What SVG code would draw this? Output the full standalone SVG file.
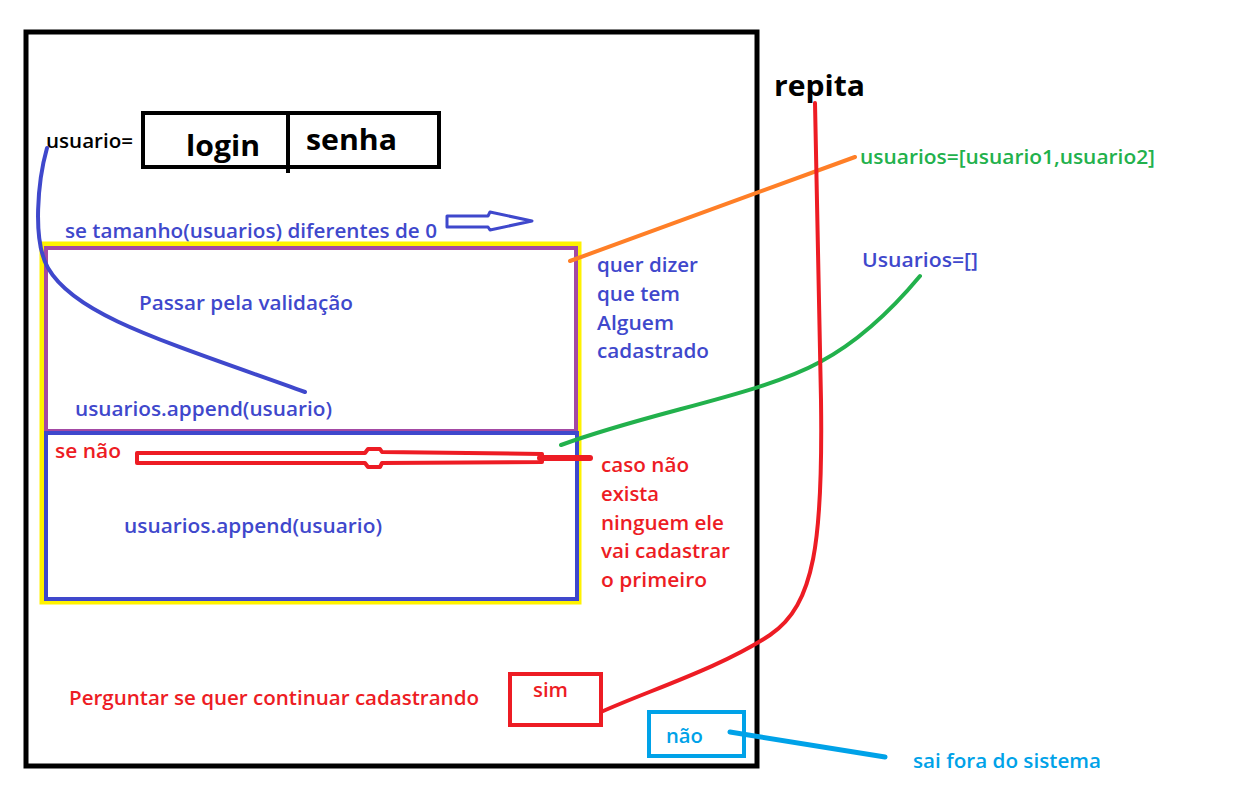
<svg xmlns="http://www.w3.org/2000/svg" width="1237" height="793" viewBox="0 0 1237 793">
<style>
text{font-family:"Open Sans","Liberation Sans",sans-serif;font-weight:600;font-size:19.5px}
.blk{fill:#000}
.blu{fill:#3f48cc}
.red{fill:#ed1c24}
.grn{fill:#22b14c}
.cyn{fill:#00a2e8}
.big{font-size:29px;font-weight:700}
.ln{fill:none;stroke-linecap:round;stroke-linejoin:round}
</style>
<rect width="1237" height="793" fill="#fff"/>
<g id="frame"><rect x="26" y="32" width="731" height="734" fill="none" stroke="#000" stroke-width="5"/></g>
<g id="usuario">
<text class="blk" x="46" y="148" textLength="87" lengthAdjust="spacingAndGlyphs">usuario=</text>
<rect x="143" y="113" width="296" height="54" fill="none" stroke="#000" stroke-width="4"/>
<line x1="288" y1="113" x2="288" y2="173" stroke="#000" stroke-width="4"/>
<text class="blk big" x="186" y="156" textLength="74" lengthAdjust="spacingAndGlyphs">login</text>
<text class="blk big" x="306" y="150" textLength="91" lengthAdjust="spacingAndGlyphs">senha</text>
</g>
<g id="cond">
<text class="blu" x="65" y="238" textLength="372" lengthAdjust="spacingAndGlyphs">se tamanho(usuarios) diferentes de 0</text>
<polygon points="447,216 488,216 490,212 532,221 490,230 488,227 447,227" fill="none" stroke="#3f48cc" stroke-width="3" stroke-linejoin="round"/>
</g>
<g id="outer-box"><rect x="42" y="244" width="537" height="358" fill="none" stroke="#fff200" stroke-width="5"/></g>
<g id="if-box">
<rect x="46" y="248" width="530" height="183" fill="none" stroke="#a349a4" stroke-width="4"/>
<text class="blu" x="139" y="310" textLength="214" lengthAdjust="spacingAndGlyphs">Passar pela validação</text>
<text class="blu" x="75" y="416" textLength="257" lengthAdjust="spacingAndGlyphs">usuarios.append(usuario)</text>
</g>
<g id="else-box">
<rect x="46" y="433" width="531" height="166" fill="none" stroke="#3f48cc" stroke-width="4"/>
<text class="red" x="55" y="458" textLength="66" lengthAdjust="spacingAndGlyphs">se não</text>
<text class="blu" x="124" y="533" textLength="258" lengthAdjust="spacingAndGlyphs">usuarios.append(usuario)</text>
</g>
<g id="note-quer">
<text class="blu" x="597" y="272" textLength="101" lengthAdjust="spacingAndGlyphs">quer dizer</text>
<text class="blu" x="597" y="301" textLength="83" lengthAdjust="spacingAndGlyphs">que tem</text>
<text class="blu" x="597" y="330" textLength="77" lengthAdjust="spacingAndGlyphs">Alguem</text>
<text class="blu" x="597" y="358" textLength="112" lengthAdjust="spacingAndGlyphs">cadastrado</text>
</g>
<g id="note-caso">
<text class="red" x="601" y="472" textLength="88" lengthAdjust="spacingAndGlyphs">caso não</text>
<text class="red" x="601" y="501" textLength="58" lengthAdjust="spacingAndGlyphs">exista</text>
<text class="red" x="601" y="530" textLength="123" lengthAdjust="spacingAndGlyphs">ninguem ele</text>
<text class="red" x="601" y="558" textLength="129" lengthAdjust="spacingAndGlyphs">vai cadastrar</text>
<text class="red" x="601" y="587" textLength="106" lengthAdjust="spacingAndGlyphs">o primeiro</text>
</g>
<g id="repita"><text class="blk big" x="774" y="96" textLength="91" lengthAdjust="spacingAndGlyphs">repita</text></g>
<g id="lista"><text class="grn" x="860" y="164" textLength="295" lengthAdjust="spacingAndGlyphs">usuarios=[usuario1,usuario2]</text></g>
<g id="vazia"><text class="blu" x="862" y="267" textLength="116" lengthAdjust="spacingAndGlyphs">Usuarios=[]</text></g>
<g id="pergunta"><text class="red" x="69" y="705" textLength="410" lengthAdjust="spacingAndGlyphs">Perguntar se quer continuar cadastrando</text></g>
<g id="sim">
<rect x="510" y="674" width="91" height="51" fill="none" stroke="#ed1c24" stroke-width="4"/>
<text class="red" x="533" y="697" textLength="35" lengthAdjust="spacingAndGlyphs">sim</text>
</g>
<g id="nao">
<rect x="649" y="712" width="95" height="44" fill="none" stroke="#00a2e8" stroke-width="4"/>
<text class="cyn" x="666" y="743" textLength="37" lengthAdjust="spacingAndGlyphs">não</text>
</g>
<g id="sai"><text class="cyn" x="913" y="768" textLength="188" lengthAdjust="spacingAndGlyphs">sai fora do sistema</text></g>
<g id="connectors">
<path class="ln" d="M47,148 C38,180 32,240 48,268 C75,315 160,340 305,392" stroke="#3f48cc" stroke-width="4"/>
<line class="ln" x1="570" y1="261" x2="855" y2="157" stroke="#ff7f27" stroke-width="4"/>
<path class="ln" d="M561,445 C650,412 760,395 820,362 C865,338 900,300 920,276" stroke="#22b14c" stroke-width="4"/>
<path class="ln" d="M815,103 L821,400 C823,540 815,605 770,635 C720,668 650,690 601,712" stroke="#ed1c24" stroke-width="4"/>
<path class="ln" d="M137,453 L365,453 L368,449 L380,449 L382,452 L542,454 L542,462 L382,463 L380,467 L368,467 L365,463 L137,463 Z" stroke="#ed1c24" stroke-width="4"/>
<line class="ln" x1="540" y1="458" x2="590" y2="458" stroke="#ed1c24" stroke-width="6"/>
<line class="ln" x1="730" y1="732" x2="885" y2="757" stroke="#00a2e8" stroke-width="5"/>
</g>
</svg>
